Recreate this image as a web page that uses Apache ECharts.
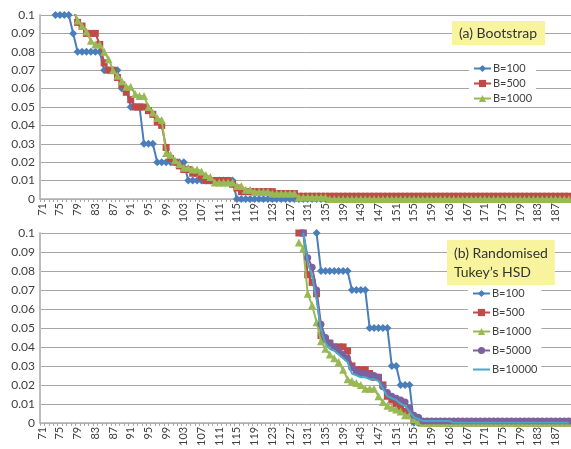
<!DOCTYPE html>
<html>
<head>
<meta charset="utf-8">
<script src="https://cdn.jsdelivr.net/npm/echarts@6/dist/echarts.min.js"></script>
<style>html,body{margin:0;padding:0;background:#fff}#c{width:571px;height:449px}</style>
</head>
<body>
<div id="c"></div>
<script>
// Categories (x axis) 71..190
var categories = [71,72,73,74,75,76,77,78,79,80,81,82,83,84,85,86,87,88,89,90,
  91,92,93,94,95,96,97,98,99,100,101,102,103,104,105,106,107,108,109,110,
  111,112,113,114,115,116,117,118,119,120,121,122,123,124,125,126,127,128,129,130,
  131,132,133,134,135,136,137,138,139,140,141,142,143,144,145,146,147,148,149,150,
  151,152,153,154,155,156,157,158,159,160,161,162,163,164,165,166,167,168,169,170,
  171,172,173,174,175,176,177,178,179,180,181,182,183,184,185,186,187,188,189,190];
var yTicks = [0,0.01,0.02,0.03,0.04,0.05,0.06,0.07,0.08,0.09,0.1];

// (a) Bootstrap
var bootB100 = [null,null,null,0.1,0.1,0.1,0.1,0.09,0.08,0.08,
  0.08,0.08,0.08,0.08,0.07,0.07,0.07,0.07,0.06,0.06,
  0.05,0.05,0.05,0.03,0.03,0.03,0.02,0.02,0.02,0.02,
  0.02,0.02,0.02,0.01,0.01,0.01,0.01,0.01,0.01,0.01,
  0.01,0.01,0.01,0.01,0,0,0,0,0,0,
  0,0,0,0,0,0,0,0,0,0, 0,0,0,0,0,0,0,0,0,0,
  0,0,0,0,0,0,0,0,0,0, 0,0,0,0,0,0,0,0,0,0,
  0,0,0,0,0,0,0,0,0,0, 0,0,0,0,0,0,0,0,0,0];
var bootB500 = [null,null,null,null,null,null,null,0.104,0.096,0.094,
  0.09,0.09,0.09,0.084,0.074,0.07,0.07,0.066,0.062,0.058,
  0.054,0.05,0.05,0.05,0.048,0.046,0.042,0.04,0.028,0.022,
  0.02,0.018,0.016,0.016,0.014,0.014,0.012,0.01,0.01,0.01,
  0.01,0.01,0.01,0.008,0.006,0.004,0.004,0.004,0.004,0.004,
  0.004,0.004,0.004,0.003,0.003,0.003,0.003,0.003,0.0015,0.0015,
  0.0015,0.0015,0.0015,0.0015,0.0015,0.0015,0.0015,0.0015,0.0015,0.0015,
  0.0015,0.0015,0.0015,0.0015,0.0015,0.0015,0.0015,0.0015,0.0015,0.0015,
  0.0015,0.0015,0.0015,0.0015,0.0015,0.0015,0.0015,0.0015,0.0015,0.0015,
  0.0015,0.0015,0.0015,0.0015,0.0015,0.0015,0.0015,0.0015,0.0015,0.0015,
  0.0015,0.0015,0.0015,0.0015,0.0015,0.0015,0.0015,0.0015,0.0015,0.0015,
  0.0015,0.0015,0.0015,0.0015,0.0015,0.0015,0.0015,0.0015,0.0015,0.0015];
var bootB1000 = [null,null,null,null,null,null,null,0.104,0.097,0.094,
  0.091,0.086,0.084,0.084,0.08,0.076,0.07,0.067,0.064,0.061,
  0.061,0.057,0.056,0.056,0.05,0.047,0.044,0.043,0.025,0.024,
  0.021,0.019,0.017,0.017,0.016,0.016,0.015,0.013,0.012,0.009,
  0.009,0.009,0.009,0.009,0.007,0.007,0.005,0.005,0.004,0.004,
  0.004,0.004,0.003,0.003,0.003,0.003,0.003,0.003,0.001,0.001,
  0.001,0.001,0.001,0.001,0.001,0,0,0,0,0,
  0,0,0,0,0,0,0,0,0,0, 0,0,0,0,0,0,0,0,0,0,
  0,0,0,0,0,0,0,0,0,0, 0,0,0,0,0,0,0,0,0,0,
  0,0,0,0,0,0,0,0,0,0];

// (b) Randomised Tukey's HSD
var hsdB100 = [null,null,null,null,null,null,null,null,null,null,
  null,null,null,null,null,null,null,null,null,null,
  null,null,null,null,null,null,null,null,null,null,
  null,null,null,null,null,null,null,null,null,null,
  null,null,null,null,null,null,null,null,null,null,
  null,null,null,null,null,null,null,null,null,null,
  null,null,0.1,0.08,0.08,0.08,0.08,0.08,0.08,0.08,
  0.07,0.07,0.07,0.07,0.05,0.05,0.05,0.05,0.05,0.03,
  0.03,0.02,0.02,0.02,0,0,0,0,0,0,
  0,0,0,0,0,0,0,0,0,0, 0,0,0,0,0,0,0,0,0,0,
  0,0,0,0,0,0,0,0,0,0];
var hsdB500 = [null,null,null,null,null,null,null,null,null,null,
  null,null,null,null,null,null,null,null,null,null,
  null,null,null,null,null,null,null,null,null,null,
  null,null,null,null,null,null,null,null,null,null,
  null,null,null,null,null,null,null,null,null,null,
  null,null,null,null,null,null,null,null,0.1,0.1,
  0.078,0.074,0.068,0.046,0.044,0.042,0.04,0.04,0.04,0.038,
  0.03,0.028,0.028,0.028,0.026,0.024,0.024,0.02,0.014,0.012,
  0.01,0.008,0.006,0.004,0.002,0.002,0,0,0,0,
  0,0,0,0,0,0,0,0,0,0, 0,0,0,0,0,0,0,0,0,0,
  0,0,0,0,0,0,0,0,0,0];
var hsdB1000 = [null,null,null,null,null,null,null,null,null,null,
  null,null,null,null,null,null,null,null,null,null,
  null,null,null,null,null,null,null,null,null,null,
  null,null,null,null,null,null,null,null,null,null,
  null,null,null,null,null,null,null,null,null,null,
  null,null,null,null,null,null,null,null,0.095,0.092,
  0.068,0.062,0.053,0.043,0.039,0.036,0.034,0.032,0.028,0.023,
  0.022,0.021,0.02,0.018,0.018,0.018,0.014,0.011,0.009,0.008,
  0.007,0.006,0.004,0.004,0.002,0.001,0,0,0,0,
  0,0,0,0,0,0,0,0,0,0, 0,0,0,0,0,0,0,0,0,0,
  0,0,0,0,0,0,0,0,0,0];
var hsdB5000 = [null,null,null,null,null,null,null,null,null,null,
  null,null,null,null,null,null,null,null,null,null,
  null,null,null,null,null,null,null,null,null,null,
  null,null,null,null,null,null,null,null,null,null,
  null,null,null,null,null,null,null,null,null,null,
  null,null,null,null,null,null,null,null,null,0.1,
  0.087,0.082,0.07,0.052,0.045,0.042,0.04,0.038,0.036,0.034,
  0.029,0.027,0.026,0.026,0.025,0.025,0.024,0.019,0.016,0.014,
  0.013,0.012,0.011,0.008,0.004,0.003,0.001,0.001,0.001,0.001,
  0.001,0.001,0.001,0.001,0.001,0.001,0.001,0.001,0.001,0.001,
  0.001,0.001,0.001,0.001,0.001,0.001,0.001,0.001,0.001,0.001,
  0.001,0.001,0.001,0.001,0.001,0.001,0.001,0.001,0.001,0.001];
var hsdB10000 = [null,null,null,null,null,null,null,null,null,null,
  null,null,null,null,null,null,null,null,null,null,
  null,null,null,null,null,null,null,null,null,null,
  null,null,null,null,null,null,null,null,null,null,
  null,null,null,null,null,null,null,null,null,null,
  null,null,null,null,null,null,null,null,null,0.1,
  0.085,0.077,0.065,0.049,0.042,0.039,0.038,0.036,0.034,0.032,
  0.026,0.025,0.024,0.024,0.023,0.023,0.022,0.018,0.014,0.013,
  0.012,0.01,0.009,0.006,0.003,0.002,0.001,0.001,0.001,0.001,
  0.001,0.001,0.001,0,0,0,0,0,0,0,
  0,0,0,0,0,0,0,0,0,0, 0,0,0,0,0,0,0,0,0,0];

var FONT = 'Lato';
var TXT = '#404040';
var COLORS = {b100:'#4A7EBB', b500:'#BE4B48', b1000:'#98B954', b5000:'#7D60A0', b10000:'#46AAC5'};

function xAxis(gi){
  return {type:'category', gridIndex:gi, data:categories, boundaryGap:true,
    axisLine:{show:true, lineStyle:{color:'#b3b3b3', width:1.5}},
    axisTick:{show:true, interval:0, length:3, lineStyle:{color:'#a6a6a6'}},
    axisLabel:{interval:3, rotate:90, fontSize:11, fontFamily:FONT, color:TXT, margin:4},
    splitLine:{show:false}};
}
function yAxis(gi){
  return {type:'value', gridIndex:gi, min:0, max:0.1, interval:0.01,
    axisLine:{show:true, lineStyle:{color:'#bdbdbd', width:2}},
    axisTick:{show:false},
    axisLabel:{fontSize:12, fontFamily:FONT, color:TXT, margin:5,
      formatter:function(v){return String(Math.round(v*100)/100);}},
    splitLine:{show:true, lineStyle:{color:'#a6a6a6', width:1}}};
}
function ser(name, data, gi, color, symbol, size, z){
  return {name:name, type:'line', xAxisIndex:gi, yAxisIndex:gi, data:data,
    symbol:symbol, symbolSize:size, showSymbol:symbol!=='none', showAllSymbol:true,
    connectNulls:false, clip:true, z:z,
    lineStyle:{color:color, width:2}, itemStyle:{color:color, borderWidth:0}};
}

var option = {
  animation:false,
  backgroundColor:'#ffffff',
  grid:[{left:40, right:0, top:15, height:184, containLabel:false},
        {left:40, right:0, top:233, height:193, containLabel:false}],
  xAxis:[xAxis(0), xAxis(1)],
  yAxis:[yAxis(0), yAxis(1)],
  title:[
    {text:'(a) Bootstrap', left:452, top:21, backgroundColor:'#F8F49E', padding:[5,8,5,7],
     textStyle:{fontSize:14, fontWeight:'normal', fontFamily:FONT, color:'#333'}},
    {text:'(b) Randomised\nTukey\u2019s HSD', left:447, top:240, backgroundColor:'#F8F49E', padding:[4,7,3,7],
     textStyle:{fontSize:14, fontWeight:'normal', fontFamily:FONT, color:'#333', lineHeight:19}}
  ],
  legend:[
    {orient:'vertical', left:469, top:60, padding:[3,4,3,4], backgroundColor:'#fff',
     itemWidth:17, itemHeight:9, itemGap:4,
     textStyle:{fontSize:11, fontFamily:FONT, color:TXT, padding:[0,0,0,-3]},
     data:['B=100','B=500','B=1000']},
    {orient:'vertical', left:468, top:285, padding:[3,4,3,4], backgroundColor:'#fff',
     itemWidth:17, itemHeight:9, itemGap:8,
     textStyle:{fontSize:11, fontFamily:FONT, color:TXT, padding:[0,0,0,-3]},
     data:['B=100','B=500','B=1000','B=5000',
       {name:'B=10000', itemStyle:{color:'rgba(0,0,0,0)', opacity:0}}]}
  ],
  series:[
    ser('B=100', bootB100, 0, COLORS.b100, 'diamond', 8, 2),
    ser('B=500', bootB500, 0, COLORS.b500, 'rect', 7, 3),
    ser('B=1000', bootB1000, 0, COLORS.b1000, 'triangle', 8, 4),
    ser('B=100', hsdB100, 1, COLORS.b100, 'diamond', 8, 2),
    ser('B=500', hsdB500, 1, COLORS.b500, 'rect', 7, 3),
    ser('B=1000', hsdB1000, 1, COLORS.b1000, 'triangle', 8, 4),
    ser('B=5000', hsdB5000, 1, COLORS.b5000, 'circle', 7, 5),
    ser('B=10000', hsdB10000, 1, COLORS.b10000, 'none', 0, 6)
  ]
};
var chart = echarts.init(document.getElementById('c'), null, {renderer:'canvas'});
chart.setOption(option);
</script>
</body>
</html>
